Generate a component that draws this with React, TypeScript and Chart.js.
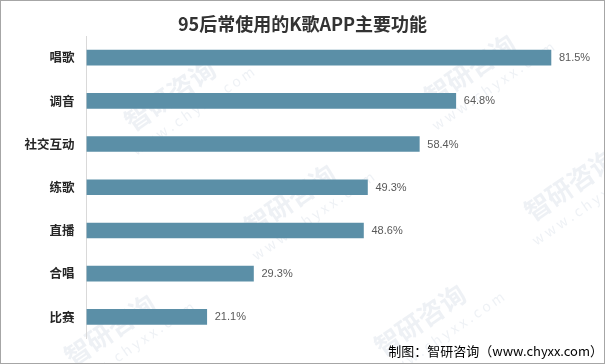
import React, { useEffect, useRef } from "react";
import { Chart, registerables } from "chart.js";

Chart.register(...registerables);

const categories = ["唱歌", "调音", "社交互动", "练歌", "直播", "合唱", "比赛"];
const values = [81.5, 64.8, 58.4, 49.3, 48.6, 29.3, 21.1];
const titleText = "95后常使用的K歌APP主要功能";
const sourceText = "制图：智研咨询（www.chyxx.com）";
const watermarkText = "智研咨询";

const CJK = "'Noto Sans CJK SC', 'Noto Sans', sans-serif";

const decorPlugin = {
  id: "decor",
  beforeDraw(chart: any) {
    const ctx = chart.ctx;
    ctx.save();
    ctx.fillStyle = "#ffffff";
    ctx.fillRect(0, 0, chart.width, chart.height);
    // watermarks
    const spots = [
      [170, 95], [470, 70], [290, 200], [570, 185], [110, 330], [420, 320],
    ];
    ctx.fillStyle = "rgba(150,170,195,0.16)";
    ctx.textAlign = "center";
    ctx.textBaseline = "middle";
    for (const [x, y] of spots) {
      ctx.save();
      ctx.translate(x, y);
      ctx.rotate(-0.6);
      ctx.font = `bold 26px ${CJK}`;
      ctx.fillText(watermarkText, 0, 0);
      ctx.font = `14px ${CJK}`;
      ctx.fillText("w w w . c h y x x . c o m", 10, 26);
      ctx.restore();
    }
    ctx.restore();
  },
  afterDraw(chart: any) {
    const ctx = chart.ctx;
    ctx.save();
    // title
    ctx.fillStyle = "#333333";
    ctx.font = `bold 18px ${CJK}`;
    ctx.textAlign = "center";
    ctx.textBaseline = "middle";
    ctx.fillText(titleText, 302.5, 24);
    // data labels
    const meta = chart.getDatasetMeta(0);
    ctx.fillStyle = "#595959";
    ctx.font = "11px 'Liberation Sans Narrow', 'Liberation Sans', sans-serif";
    ctx.textAlign = "left";
    meta.data.forEach((bar: any, i: number) => {
      ctx.fillText(values[i].toFixed(1) + "%", bar.x + 8, bar.y + 0.5);
    });
    // source
    ctx.fillStyle = "#000000";
    ctx.font = `13px ${CJK}`;
    ctx.textAlign = "right";
    ctx.fillText(sourceText, 603, 351);
    // border
    ctx.strokeStyle = "#a6a6a6";
    ctx.lineWidth = 1;
    ctx.strokeRect(0.5, 0.5, chart.width - 1, chart.height - 1);
    ctx.restore();
  },
};

export default function App() {
  const ref = useRef<HTMLCanvasElement | null>(null);
  useEffect(() => {
    document.body.style.margin = "0";
    const chart = new Chart(ref.current as HTMLCanvasElement, {
      type: "bar",
      data: {
        labels: categories,
        datasets: [
          {
            data: values,
            backgroundColor: "#5b8fa7",
            borderWidth: 0,
            barThickness: 15,
          },
        ],
      },
      options: {
        indexAxis: "y",
        animation: false,
        responsive: false,
        devicePixelRatio: 1,
        layout: { padding: { top: 36, bottom: 25.5, left: 0, right: 5.6 } },
        plugins: {
          legend: { display: false },
          title: { display: false },
          tooltip: { enabled: false },
        },
        scales: {
          x: {
            display: false,
            min: 0,
            max: 90,
          },
          y: {
            afterFit(scale: any) {
              scale.width = 86.5;
            },
            grid: { display: false, drawTicks: false },
            border: { display: true, color: "#d9d9d9", width: 1 },
            ticks: {
              padding: 12,
              color: "#262626",
              font: { family: CJK, size: 12.5, weight: "bold" },
            },
          },
        },
      },
      plugins: [decorPlugin],
    } as any);
    return () => chart.destroy();
  }, []);
  return (
    <div style={{ width: 605, height: 364 }}>
      <canvas ref={ref} width={605} height={364} />
    </div>
  );
}
